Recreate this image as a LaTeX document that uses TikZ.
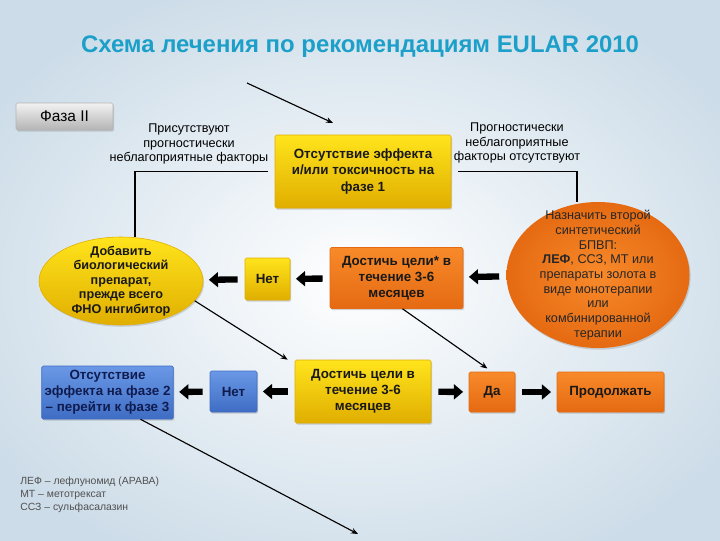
\documentclass[tikz,border=0pt]{standalone}
\usepackage{fontspec}
\setmainfont{Liberation Sans}
\usetikzlibrary{arrows.meta,positioning,shapes.geometric,shadows,calc}
\definecolor{titre}{HTML}{1CA0C9}
\definecolor{fond}{HTML}{CCDCE8}
\definecolor{jaunehaut}{HTML}{FFE41C}
\definecolor{jaunebas}{HTML}{E0AE00}
\definecolor{orhaut}{HTML}{F88A2A}
\definecolor{orbas}{HTML}{E56A12}
\definecolor{bleuhaut}{HTML}{6A98E6}
\definecolor{bleubas}{HTML}{3F6DC4}
\definecolor{bleunuit}{HTML}{101C50}
\definecolor{grishaut}{HTML}{F2F2F2}
\definecolor{grisbas}{HTML}{B4B4B4}
\definecolor{gristexte}{HTML}{505050}
\newlength\pxu
\setlength\pxu{0.025cm}
\tikzset{
  boite/.style={rounded corners=1pt,align=center,inner sep=2pt,
                font=\bfseries\fontsize{9.5}{11.5}\selectfont,text=black!90,
                drop shadow={opacity=0.35,shadow xshift=0.8pt,shadow yshift=-1.2pt}},
  jaune/.style={boite,top color=jaunehaut,bottom color=jaunebas,draw=jaunebas},
  orangee/.style={boite,top color=orhaut,bottom color=orbas,draw=orbas},
  bleue/.style={boite,top color=bleuhaut,bottom color=bleubas,draw=bleubas,text=bleunuit},
  fleche/.style={-{Triangle[length=6.5pt,width=10.5pt]},line width=4.5pt,black,
                 shorten <=5pt,shorten >=4pt},
  trait/.style={line width=0.8pt,black},
  pointe/.style={trait,-{Stealth[length=5pt,width=4pt]}},
  legende/.style={font=\fontsize{9}{10.6}\selectfont,align=center},
}
\begin{document}
\begin{tikzpicture}[x=\pxu,y=-\pxu]
  \useasboundingbox (0,0) rectangle (720,540);
  \shade[inner color=white,outer color=fond] (-80,-40) rectangle (800,600);
  \node[font=\bfseries\fontsize{17}{20}\selectfont,text=titre] (titre) at (360,47)
    {Схема лечения по рекомендациям EULAR 2010};
  % phase
  \node[top color=grishaut,bottom color=grisbas,draw=grisbas,rounded corners=1pt,
        font=\fontsize{11}{13}\selectfont,minimum width=97\pxu,minimum height=27\pxu,
        drop shadow={opacity=0.3,shadow xshift=0.8pt,shadow yshift=-1.2pt}]
    (phase) at (64.5,116.5) {Фаза II};
  % ligne du haut
  \node[jaune,minimum width=176\pxu,minimum height=73\pxu] (echec1) at (363,171.5)
    {Отсутствие эффекта\\и/или токсичность на\\фазе 1};
  \node[legende] (avec) at (189,144)
    {Присутствуют\\прогностически\\неблагоприятные факторы};
  \node[legende] (sans) at (517,143)
    {Прогностически\\неблагоприятные\\факторы отсутствуют};
  % ligne du milieu
  \node[ellipse,top color=jaunehaut,bottom color=jaunebas,draw=jaunebas,align=center,
        inner xsep=0pt,inner ysep=-8pt,minimum width=164\pxu,minimum height=88\pxu,
        font=\bfseries\fontsize{9}{10.3}\selectfont,text=black!90,
        drop shadow={opacity=0.3,shadow xshift=0.8pt,shadow yshift=-1.2pt}]
    (bio) at (121,281) {Добавить\\биологический\\препарат,\\прежде всего\\ФНО ингибитор};
  \node[jaune,minimum width=45\pxu,minimum height=42\pxu] (non1) at (267.5,279) {Нет};
  \node[orangee,minimum width=133\pxu,minimum height=61\pxu] (cible1) at (396.5,278)
    {Достичь цели* в\\течение 3-6\\месяцев};
  \node[ellipse,inner color=orhaut,outer color=orbas,align=center,
        inner xsep=0pt,inner ysep=-12pt,minimum width=183\pxu,minimum height=146\pxu,
        font=\fontsize{9}{10.45}\selectfont,text=black!85,
        drop shadow={opacity=0.3,shadow xshift=0.8pt,shadow yshift=-1.2pt}]
    (bpvp) at (598,275) {Назначить второй\\синтетический\\БПВП:\\\textbf{ЛЕФ}, ССЗ, МТ или\\препараты золота в\\виде монотерапии\\или\\комбинированной\\терапии};
  % ligne du bas
  \node[bleue,minimum width=131\pxu,minimum height=53\pxu] (phase3) at (107.5,392.5)
    {Отсутствие\\эффекта на фазе 2\\– перейти к фазе 3};
  \node[bleue,minimum width=47\pxu,minimum height=41\pxu] (non2) at (233.5,391.5) {Нет};
  \node[jaune,minimum width=136\pxu,minimum height=63\pxu] (cible2) at (363,391.5)
    {Достичь цели в\\течение 3-6\\месяцев};
  \node[orangee,minimum width=46\pxu,minimum height=40\pxu] (oui) at (492,392) {Да};
  \node[orangee,minimum width=107\pxu,minimum height=40\pxu] (suite) at (610.5,392) {Продолжать};
  % legende
  \node[anchor=north west,align=left,text=gristexte,inner sep=0pt,
        font=\fontsize{7.4}{9}\selectfont] (notes) at (20,477)
    {ЛЕФ – лефлуномид (АРАВА)\\МТ – метотрексат\\ССЗ – сульфасалазин};
  % fleches
  \foreach \u/\v in {bpvp/cible1,cible1/non1,non1/bio,cible2/non2,non2/phase3,cible2/oui,oui/suite}
    \draw[fleche] (\u) -- (\v);
  \draw[trait,shorten <=5pt] (echec1.west) -| ([xshift=14\pxu]bio.north);
  \draw[trait,shorten <=5pt] (echec1.east) -| ([xshift=-21\pxu]bpvp.north);
  \coordinate (depart) at (247,83);
  \coordinate (arrivee) at (333,123);
  \coordinate (fin) at (358,534);
  \draw[pointe] (depart) -- (arrivee);
  \draw[pointe] (bio.-15) -- ([xshift=-7\pxu]cible2.north west);
  \draw[pointe,shorten >=4pt] ([xshift=6\pxu]cible1.south) -- (oui.north);
  \draw[pointe] ([xshift=33\pxu]phase3.south) -- (fin);
\end{tikzpicture}
\end{document}
